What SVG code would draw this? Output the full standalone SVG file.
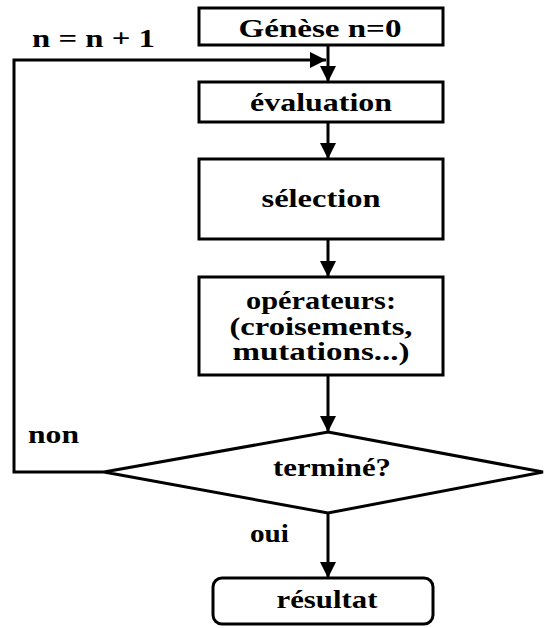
<svg xmlns="http://www.w3.org/2000/svg" width="546" height="628" viewBox="0 0 546 628">
<style>
.box{fill:#fff;stroke:#000;stroke-width:3}
.ln{fill:none;stroke:#000;stroke-width:3}
.t{font-family:'Liberation Serif','Times New Roman',serif;font-weight:bold;font-size:25px;fill:#000}
.c{text-anchor:middle}
</style>
<defs>
<marker id="ah" markerUnits="userSpaceOnUse" markerWidth="18" markerHeight="18" refX="16" refY="9" orient="auto">
<path d="M0,1 L16,9 L0,17 Z" fill="#000"/>
</marker>
</defs>
<rect width="546" height="628" fill="#fff"/>
<g id="connectors">
<line class="ln" x1="328" y1="45" x2="328" y2="82" marker-end="url(#ah)"/>
<polyline class="ln" points="104,472 14,472 14,60 326,60" marker-end="url(#ah)"/>
<line class="ln" x1="328" y1="122" x2="328" y2="159" marker-end="url(#ah)"/>
<line class="ln" x1="328" y1="239" x2="328" y2="277" marker-end="url(#ah)"/>
<line class="ln" x1="328" y1="375" x2="328" y2="432" marker-end="url(#ah)"/>
<line class="ln" x1="328" y1="513" x2="328" y2="578" marker-end="url(#ah)"/>
<text class="t" x="32" y="47" textLength="123" lengthAdjust="spacingAndGlyphs">n = n + 1</text>
<text class="t" x="28" y="443" textLength="51" lengthAdjust="spacingAndGlyphs">non</text>
<text class="t" x="250" y="542" textLength="39" lengthAdjust="spacingAndGlyphs">oui</text>
</g>
<g id="genese">
<rect class="box" x="199" y="8" width="244" height="37"/>
<text class="t c" x="320" y="37" textLength="163" lengthAdjust="spacingAndGlyphs">Génèse n=0</text>
</g>
<g id="evaluation">
<rect class="box" x="199" y="82" width="244" height="40"/>
<text class="t c" x="321" y="111" textLength="142" lengthAdjust="spacingAndGlyphs">évaluation</text>
</g>
<g id="selection">
<rect class="box" x="199" y="159" width="244" height="80"/>
<text class="t c" x="321" y="207" textLength="119" lengthAdjust="spacingAndGlyphs">sélection</text>
</g>
<g id="operateurs">
<rect class="box" x="199" y="277" width="244" height="98"/>
<text class="t c" x="321" y="309" textLength="150" lengthAdjust="spacingAndGlyphs">opérateurs:</text>
<text class="t c" x="321" y="335" textLength="183" lengthAdjust="spacingAndGlyphs">(croisements,</text>
<text class="t c" x="321" y="360" textLength="177" lengthAdjust="spacingAndGlyphs">mutations...)</text>
</g>
<g id="termine">
<polygon class="box" points="328,432 543,472 328,513 104,472"/>
<text class="t c" x="332" y="476" textLength="118" lengthAdjust="spacingAndGlyphs">terminé?</text>
</g>
<g id="resultat">
<rect class="box" x="213" y="578" width="220" height="46" rx="9"/>
<text class="t c" x="327" y="608" textLength="101" lengthAdjust="spacingAndGlyphs">résultat</text>
</g>
</svg>
